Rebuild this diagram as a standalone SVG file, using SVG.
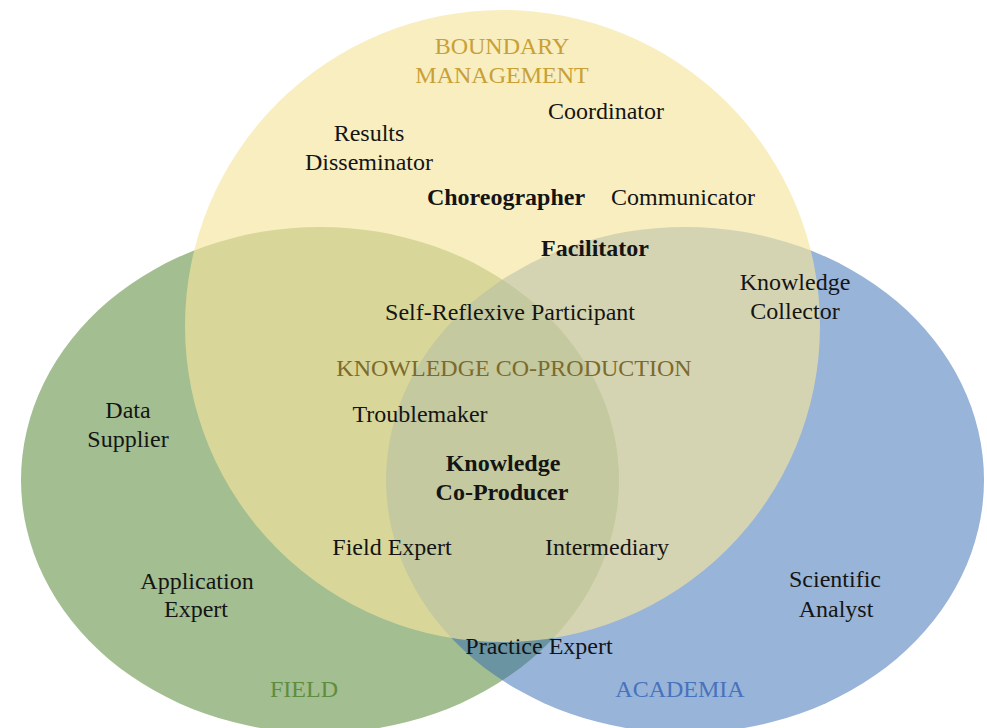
<svg xmlns="http://www.w3.org/2000/svg" width="987" height="728" viewBox="0 0 987 728">
<style>
text{font-family:"Liberation Serif","Times New Roman",serif;font-size:24px;text-anchor:middle;fill:#141414}
.b{font-weight:bold}
.gold{fill:#C8A036}
.olive{fill:#7D6A2C}
.green{fill:#5E8D3F}
.blue{fill:#4872BC}
</style>
<rect width="987" height="728" fill="#ffffff"/>
<g id="sets">
<g id="field"><ellipse cx="320" cy="480" rx="299" ry="253" fill="#A3BE90"/></g>
<g id="academia"><ellipse cx="685" cy="480" rx="299" ry="253" fill="#3169B1" fill-opacity="0.5"/></g>
<g id="boundary-management"><ellipse cx="502.5" cy="326" rx="317.5" ry="316" fill="#F5E59E" fill-opacity="0.65"/></g>
</g>
<g id="connectors"/>
<g id="labels">
<g id="lbl-boundary"><text class="gold" x="502" y="54">BOUNDARY</text><text class="gold" x="502" y="83">MANAGEMENT</text></g>
<g id="coordinator"><text x="606" y="119">Coordinator</text></g>
<g id="results-disseminator"><text x="369" y="141">Results</text><text x="369" y="170">Disseminator</text></g>
<g id="choreographer"><text class="b" x="506" y="205">Choreographer</text></g>
<g id="communicator"><text x="683" y="205">Communicator</text></g>
<g id="facilitator"><text class="b" x="595" y="256">Facilitator</text></g>
<g id="knowledge-collector"><text x="795" y="290">Knowledge</text><text x="795" y="319">Collector</text></g>
<g id="self-reflexive"><text x="510" y="320">Self-Reflexive Participant</text></g>
<g id="lbl-kcp"><text class="olive" x="514" y="376">KNOWLEDGE CO-PRODUCTION</text></g>
<g id="data-supplier"><text x="128" y="418">Data</text><text x="128" y="447">Supplier</text></g>
<g id="troublemaker"><text x="420" y="422">Troublemaker</text></g>
<g id="knowledge-coproducer"><text class="b" x="503" y="471">Knowledge</text><text class="b" x="502" y="500">Co-Producer</text></g>
<g id="field-expert"><text x="392" y="555">Field Expert</text></g>
<g id="intermediary"><text x="607" y="555">Intermediary</text></g>
<g id="application-expert"><text x="197" y="589">Application</text><text x="196" y="617">Expert</text></g>
<g id="scientific-analyst"><text x="835" y="587">Scientific</text><text x="836" y="617">Analyst</text></g>
<g id="practice-expert"><text x="539" y="654">Practice Expert</text></g>
<g id="lbl-field"><text class="green" x="304" y="697">FIELD</text></g>
<g id="lbl-academia"><text class="blue" x="680" y="697">ACADEMIA</text></g>
</g>
</svg>
